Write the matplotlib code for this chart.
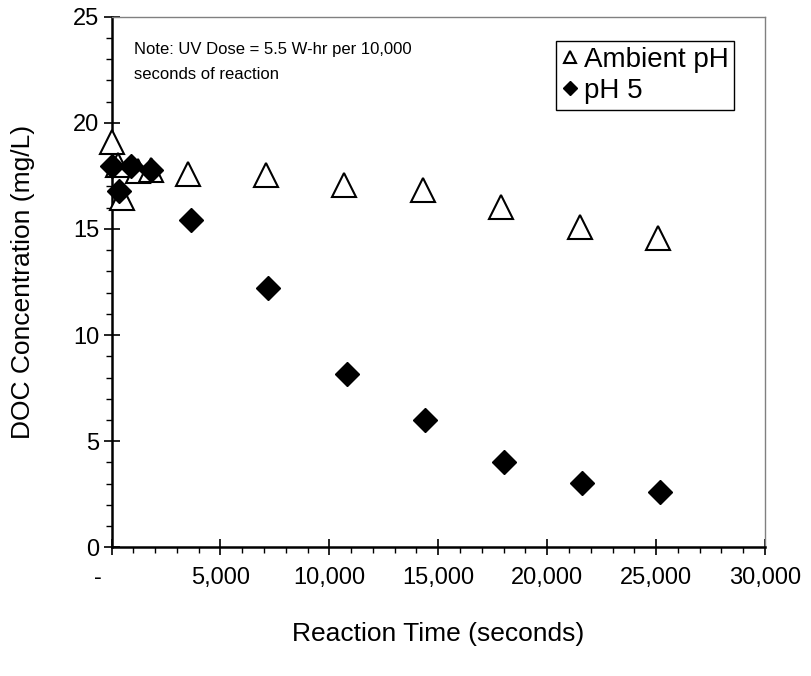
import matplotlib
matplotlib.use("Agg")
import matplotlib.pyplot as plt
from matplotlib.ticker import MultipleLocator, FuncFormatter

plt.rcParams['font.family'] = ['Liberation Sans', 'DejaVu Sans']

# DOC measurements (mg/L) vs reaction time (s)
t_ambient = [0, 300, 500, 1200, 1800, 3500, 7100, 10650, 14300, 17900, 21500, 25100]
doc_ambient = [19.1, 18.0, 16.45, 17.75, 17.8, 17.6, 17.55, 17.05, 16.85, 16.05, 15.1, 14.55]

t_ph5 = [0, 350, 900, 1800, 3650, 7200, 10800, 14400, 18000, 21600, 25200]
doc_ph5 = [17.95, 16.8, 17.95, 17.8, 15.4, 12.2, 8.15, 6.0, 4.03, 3.02, 2.62]

fig = plt.figure(figsize=(8.11, 6.76), dpi=100)
ax = fig.add_axes([0.1375, 0.1904, 0.8058, 0.7849])

ax.plot(t_ambient, doc_ambient, linestyle='none', marker='^', markersize=17,
        markerfacecolor='white', markeredgecolor='black', markeredgewidth=1.5,
        label='Ambient pH', zorder=3, clip_on=False)
ax.plot(t_ph5, doc_ph5, linestyle='none', marker='D', markersize=12.5,
        markerfacecolor='black', markeredgecolor='black',
        label='pH 5', zorder=4, clip_on=False)

ax.set_xlim(0, 30000)
ax.set_ylim(0, 25)

ax.xaxis.set_major_locator(MultipleLocator(5000))
ax.xaxis.set_minor_locator(MultipleLocator(1000))
ax.yaxis.set_major_locator(MultipleLocator(5))
ax.yaxis.set_minor_locator(MultipleLocator(1))


def acct(x, pos):
    # accounting-style label: zero shows as a dash
    if x == 0:
        return '-    '
    return '{:,.0f}'.format(x)


ax.xaxis.set_major_formatter(FuncFormatter(acct))

ax.tick_params(which='major', direction='inout', length=12, width=1.2,
               labelsize=17)
ax.tick_params(which='minor', direction='out', length=4.5, width=1)
ax.tick_params(axis='x', which='major', pad=8)
ax.tick_params(axis='y', which='major', pad=3)

for side in ['left', 'bottom']:
    ax.spines[side].set_linewidth(1.8)
    ax.spines[side].set_color('black')
for side in ['top', 'right']:
    ax.spines[side].set_linewidth(1)
    ax.spines[side].set_color('#808080')

ax.set_xlabel('Reaction Time (seconds)', fontsize=19, va='center')
ax.set_ylabel('DOC Concentration (mg/L)', fontsize=19, va='center')
ax.xaxis.set_label_coords(0.5, -0.163)
ax.yaxis.set_label_coords(-0.135, 0.5)

ax.text(0.0344, 0.914, 'Note: UV Dose = 5.5 W-hr per 10,000\nseconds of reaction',
        transform=ax.transAxes, fontsize=12, ha='left', va='center',
        linespacing=1.85)

leg = ax.legend(loc='upper right', bbox_to_anchor=(0.9526, 0.954),
                borderaxespad=0, fontsize=20, markerscale=0.55,
                handlelength=0.6, handletextpad=0.2, labelspacing=0.2,
                fancybox=False, framealpha=1, edgecolor='black',
                borderpad=0.2)
leg.get_frame().set_linewidth(1)

fig.savefig('out.png', dpi=100)
